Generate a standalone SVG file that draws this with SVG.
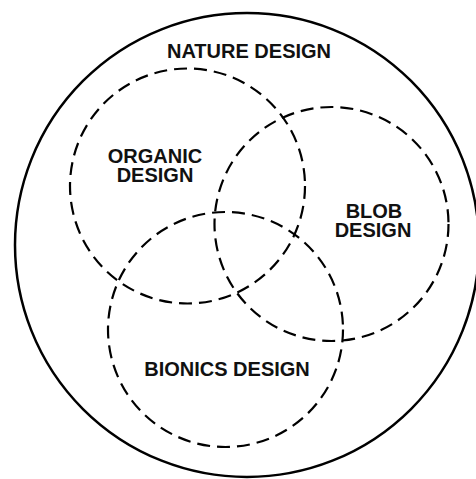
<svg xmlns="http://www.w3.org/2000/svg" width="476" height="479" viewBox="0 0 476 479">
<style>
.outer{fill:none;stroke:#000;stroke-width:2.5}
.set{fill:none;stroke:#000;stroke-width:2.2;stroke-dasharray:13 7}
text{font-family:"Liberation Sans",Arial,sans-serif;font-weight:bold;font-size:20px;fill:#111;text-anchor:middle}
</style>
<rect width="476" height="479" fill="#fff"/>
<g id="nature">
<circle class="outer" cx="247" cy="245" r="232"/>
<text x="249" y="58">NATURE DESIGN</text>
</g>
<g id="organic">
<circle class="set" cx="187.5" cy="186" r="117.5"/>
<text x="155" y="163">ORGANIC<tspan x="155" dy="19">DESIGN</tspan></text>
</g>
<g id="blob">
<circle class="set" cx="331.5" cy="224" r="117"/>
<text x="374" y="218">BLOB<tspan x="373" dy="19">DESIGN</tspan></text>
</g>
<g id="bionics">
<circle class="set" cx="225.5" cy="329.5" r="117.5"/>
<text x="227" y="376">BIONICS DESIGN</text>
</g>
<g id="connectors"></g>
</svg>
